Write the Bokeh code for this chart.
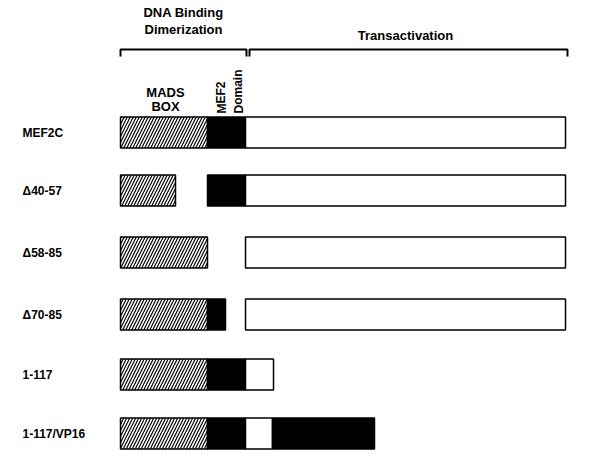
from bokeh.plotting import figure
from bokeh.embed import file_html
from bokeh.resources import INLINE
from bokeh.core.properties import value

constructs = ["MEF2C", "\u039440-57", "\u039458-85", "\u039470-85", "1-117", "1-117/VP16"]
row_y = [132, 190, 252, 314, 374, 433]
bar_h = 31

# segments: (row index, start, end, kind)
seg_row = [0, 0, 0, 1, 1, 1, 2, 2, 3, 3, 3, 4, 4, 4, 5, 5, 5, 5]
seg_start = [120, 207, 245, 120, 207, 245, 120, 245, 120, 207, 245, 120, 207, 245, 120, 207, 245, 272]
seg_end = [207, 245, 565, 175, 245, 565, 207, 565, 207, 225, 565, 207, 245, 273, 207, 245, 272, 374]
seg_kind = ["mads", "mef2", "ta", "mads", "mef2", "ta", "mads", "ta", "mads", "mef2", "ta",
            "mads", "mef2", "ta", "mads", "mef2", "ta", "vp16"]

p = figure(width=576, height=450, x_range=(8, 584), y_range=(458, 8),
           output_backend="svg", toolbar_location=None, min_border=0)
p.axis.visible = False
p.grid.visible = False
p.outline_line_color = None

font = value("Liberation Sans")
for r, s, e, k in zip(seg_row, seg_start, seg_end, seg_kind):
    y = row_y[r]
    if k == "mads":
        p.quad(left=s, right=e, bottom=y + bar_h / 2, top=y - bar_h / 2, fill_color="white",
               line_color="black", line_width=1.5, hatch_pattern="/", hatch_color="black",
               hatch_scale=6, hatch_weight=1.2)
    elif k == "ta":
        p.quad(left=s, right=e, bottom=y + bar_h / 2, top=y - bar_h / 2, fill_color="white",
               line_color="black", line_width=1.5)
    else:
        p.quad(left=s, right=e, bottom=y + bar_h / 2, top=y - bar_h / 2, fill_color="black",
               line_color="black", line_width=1.5)

p.text(x=[22] * len(constructs), y=row_y, text=constructs, text_font=font,
       text_font_style="bold", text_font_size="12px", text_baseline="middle")

# brackets
p.line([120, 120, 246, 246], [56, 49, 49, 56], color="black", line_width=2)
p.line([249, 249, 567, 567], [56, 49, 49, 56], color="black", line_width=2)

p.text(x=[183, 183, 405, 165], y=[12, 29, 35, 92], text=["DNA Binding", "Dimerization", "Transactivation", "MADS"],
       text_font=font, text_font_style="bold", text_font_size="13px", text_align="center",
       text_baseline="middle")
p.text(x=[165], y=[106], text=["BOX"], text_font=font, text_font_style="bold",
       text_font_size="13px", text_align="center", text_baseline="middle")
p.text(x=[221, 238], y=[113, 113], text=["MEF2", "Domain"], angle=1.5708, text_font=font,
       text_font_style="bold", text_font_size="12px", text_align="left", text_baseline="middle")

p.x_range.start, p.x_range.end = 0, 576
p.y_range.start, p.y_range.end = 450, 0

open("out.html", "w").write(file_html(p, INLINE))
